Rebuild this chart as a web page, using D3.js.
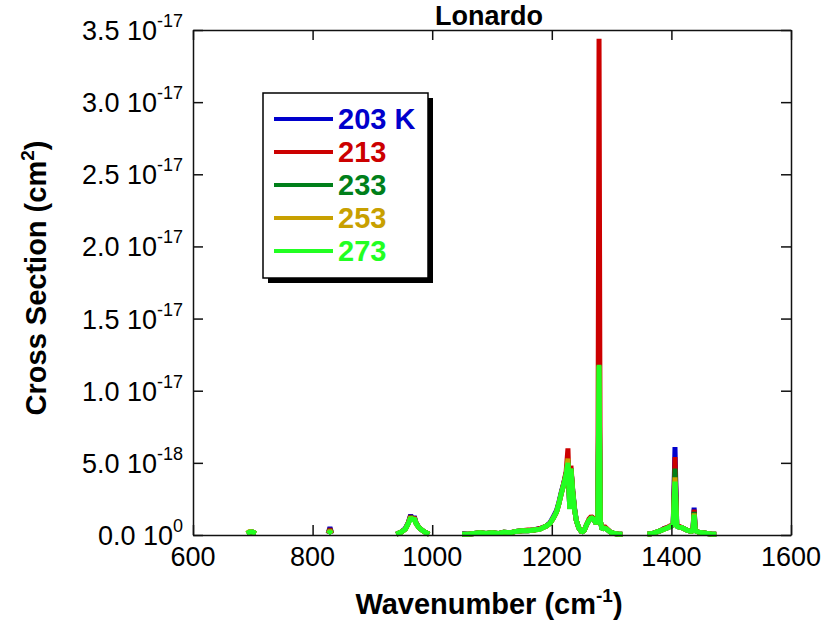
<!DOCTYPE html>
<html>
<head>
<meta charset="utf-8">
<script src="https://cdn.jsdelivr.net/npm/d3@7"></script>
<style>
    body { margin: 0; background: #ffffff; }
    text { font-family: "Liberation Sans", Arial, Helvetica, sans-serif; }
</style>
</head>
<body>
<svg id="chart" width="840" height="625"></svg>
<script>
// Wavenumber grid (cm-1) shared by every temperature; null values mark gaps
var wavenumber = [
    690, 695, 700, 705,
    760,
    826, 829, 832,
    900,
    940, 948, 955, 960, 964, 967, 970, 973, 978, 984, 990, 995,
    1020,
    1050, 1060, 1070, 1080, 1090, 1100, 1110, 1120, 1130, 1140, 1150, 1160,
    1170, 1180, 1190, 1197, 1203, 1208, 1212, 1216, 1220, 1224, 1227, 1230,
    1232, 1235, 1238, 1241, 1245, 1250, 1254, 1258, 1262, 1266, 1270, 1274,
    1277, 1279, 1281, 1284, 1288, 1292, 1298, 1305, 1312, 1318,
    1340,
    1360, 1368, 1375, 1382, 1388, 1394, 1399, 1403, 1406, 1409, 1413, 1418,
    1423, 1428, 1433, 1436, 1438, 1440, 1445, 1452, 1460, 1468, 1475
];

// Cross sections in units of 1e-18 cm2
var xs203 = [
    0.1, 0.15, 0.15, 0.1,
    null,
    0.1, 0.55, 0.1,
    null,
    0.05, 0.2, 0.45, 0.85, 1.4, 1.05, 1.3, 0.85, 0.5, 0.3, 0.15, 0.05,
    null,
    0.1, 0.05, 0.1, 0.15, 0.1, 0.15, 0.1, 0.2, 0.15, 0.25, 0.3, 0.3,
    0.35, 0.45, 0.6, 0.85, 1.3, 1.7, 2.3, 3.0, 3.6, 4.3, 4.6, 1.9,
    4.6, 3.1, 1.9, 1.0, 0.5, 0.2, 0.3, 0.7, 1.0, 1.25, 1.1, 0.8,
    1.0, 11.0, 1.0, 0.4, 0.5, 0.4, 0.2, 0.1, 0.05, 0.05,
    null,
    0.05, 0.1, 0.2, 0.3, 0.45, 0.5, 0.6, 0.7, 6.1, 0.6, 0.55, 0.5,
    0.4, 0.3, 0.25, 0.3, 1.9, 0.3, 0.2, 0.15, 0.1, 0.05, 0.05
];
var xs213 = [
    0.1, 0.2, 0.2, 0.1,
    null,
    0.1, 0.45, 0.1,
    null,
    0.05, 0.2, 0.4, 0.85, 1.35, 1.0, 1.25, 0.85, 0.5, 0.3, 0.15, 0.05,
    null,
    0.05, 0.05, 0.1, 0.15, 0.1, 0.15, 0.1, 0.2, 0.15, 0.25, 0.3, 0.35,
    0.35, 0.45, 0.6, 0.8, 1.2, 1.6, 2.2, 2.9, 3.6, 4.4, 6.0, 1.8,
    4.8, 3.1, 1.8, 1.0, 0.5, 0.2, 0.3, 0.7, 1.1, 1.3, 1.15, 0.8,
    1.0, 34.4, 1.0, 0.45, 0.6, 0.45, 0.2, 0.1, 0.05, 0.05,
    null,
    0.05, 0.1, 0.2, 0.3, 0.45, 0.55, 0.65, 0.7, 5.4, 0.65, 0.6, 0.5,
    0.4, 0.3, 0.25, 0.3, 1.75, 0.35, 0.2, 0.15, 0.1, 0.05, 0.05
];
var xs233 = [
    0.1, 0.2, 0.2, 0.1,
    null,
    0.1, 0.35, 0.1,
    null,
    0.05, 0.2, 0.4, 0.8, 1.3, 1.0, 1.2, 0.8, 0.5, 0.3, 0.15, 0.05,
    null,
    0.05, 0.05, 0.1, 0.15, 0.1, 0.15, 0.1, 0.2, 0.15, 0.25, 0.3, 0.3,
    0.35, 0.4, 0.6, 0.8, 1.2, 1.6, 2.2, 2.9, 3.5, 4.2, 5.2, 1.8,
    4.6, 3.0, 1.8, 1.0, 0.5, 0.2, 0.3, 0.7, 1.0, 1.2, 1.1, 0.8,
    1.0, 11.6, 1.0, 0.4, 0.5, 0.4, 0.2, 0.1, 0.05, 0.05,
    null,
    0.05, 0.1, 0.2, 0.3, 0.4, 0.5, 0.6, 0.7, 4.6, 0.6, 0.55, 0.5,
    0.4, 0.3, 0.25, 0.3, 1.6, 0.3, 0.2, 0.15, 0.1, 0.05, 0.05
];
var xs253 = [
    0.1, 0.25, 0.2, 0.1,
    null,
    0.1, 0.3, 0.1,
    null,
    0.05, 0.2, 0.4, 0.8, 1.25, 1.0, 1.2, 0.8, 0.5, 0.3, 0.15, 0.05,
    null,
    0.05, 0.05, 0.1, 0.15, 0.1, 0.15, 0.1, 0.2, 0.15, 0.25, 0.3, 0.3,
    0.35, 0.4, 0.6, 0.8, 1.2, 1.6, 2.2, 2.9, 3.5, 4.2, 5.3, 1.8,
    4.6, 3.0, 1.8, 1.0, 0.5, 0.2, 0.3, 0.7, 1.0, 1.2, 1.1, 0.8,
    1.0, 11.7, 1.0, 0.4, 0.5, 0.4, 0.2, 0.1, 0.05, 0.05,
    null,
    0.05, 0.1, 0.2, 0.3, 0.4, 0.5, 0.6, 0.7, 4.0, 0.6, 0.55, 0.5,
    0.4, 0.3, 0.25, 0.3, 1.5, 0.3, 0.2, 0.15, 0.1, 0.05, 0.05
];
var xs273 = [
    0.1, 0.2, 0.2, 0.1,
    null,
    0.1, 0.2, 0.1,
    null,
    0.05, 0.2, 0.4, 0.8, 1.2, 1.0, 1.15, 0.8, 0.5, 0.3, 0.15, 0.05,
    null,
    0.05, 0.05, 0.1, 0.15, 0.1, 0.15, 0.1, 0.2, 0.15, 0.25, 0.3, 0.3,
    0.35, 0.4, 0.6, 0.8, 1.2, 1.6, 2.2, 2.9, 3.5, 4.2, 5.0, 1.8,
    4.6, 3.0, 1.8, 1.0, 0.5, 0.2, 0.3, 0.7, 1.0, 1.2, 1.1, 0.8,
    1.0, 11.8, 1.0, 0.4, 0.5, 0.4, 0.2, 0.1, 0.05, 0.05,
    null,
    0.05, 0.1, 0.2, 0.3, 0.4, 0.5, 0.6, 0.7, 3.7, 0.6, 0.55, 0.5,
    0.4, 0.3, 0.25, 0.3, 1.4, 0.3, 0.2, 0.15, 0.1, 0.05, 0.05
];

var seriesLabels = ["203 K", "213", "233", "253", "273"];
var seriesColors = ["#0000cc", "#cc0000", "#007f1a", "#c8a000", "#22ff22"];
var seriesValues = [xs203, xs213, xs233, xs253, xs273];

var xMajorTicks = [600, 800, 1000, 1200, 1400, 1600];
var yMajorTicks = [0, 5, 10, 15, 20, 25, 30, 35];
// mantissa and exponent of each y tick label
var yTickMantissa = ["0.0", "5.0", "1.0", "1.5", "2.0", "2.5", "3.0", "3.5"];
var yTickExponent = ["0", "-18", "-17", "-17", "-17", "-17", "-17", "-17"];

var svg = d3.select("#chart");

var plot = { left: 193, right: 791, top: 30, bottom: 535 };

var x = d3.scaleLinear().domain([600, 1600]).range([plot.left, plot.right]);
var y = d3.scaleLinear().domain([0, 35]).range([plot.bottom, plot.top]);

var xMinorTicks = d3.range(600, 1601, 50);
var yMinorTicks = d3.range(0, 35.01, 1);

/**
 * Draws one side of the frame: a set of minor ticks, then the major ones.
 * Ticks point into the plot.
 */
function drawSide(axisFn, translate, scale, majors, minors) {
    var g = svg.append("g").attr("transform", translate);
    g.call(axisFn(scale).tickValues(minors).tickSizeInner(-5).tickSizeOuter(0).tickFormat(""));
    g.call(axisFn(scale).tickValues(majors).tickSizeInner(-10).tickSizeOuter(0).tickFormat(""));
    g.selectAll("path, line").attr("stroke", "#111").attr("stroke-width", 1.5);
    return g;
}

// spectra, coldest first so warmer ones paint on top
var line = d3.line()
    .defined(function(d) { return d.v !== null; })
    .x(function(d) { return x(d.w); })
    .y(function(d) { return y(d.v); });

seriesValues.forEach(function(vals, i) {
    var pts = wavenumber.map(function(w, j) { return { w: w, v: vals[j] }; });
    svg.append("path")
        .datum(pts)
        .attr("d", line)
        .attr("fill", "none")
        .attr("stroke", seriesColors[i])
        .attr("stroke-width", 5)
        .attr("stroke-linejoin", "bevel");
});

drawSide(d3.axisBottom, "translate(0," + plot.bottom + ")", x, xMajorTicks, xMinorTicks);
drawSide(d3.axisTop, "translate(0," + plot.top + ")", x, xMajorTicks, xMinorTicks);
drawSide(d3.axisLeft, "translate(" + plot.left + ",0)", y, yMajorTicks, yMinorTicks);
drawSide(d3.axisRight, "translate(" + plot.right + ",0)", y, yMajorTicks, yMinorTicks);

// x tick labels
svg.append("g").selectAll("text")
    .data(xMajorTicks)
    .join("text")
    .attr("x", function(d) { return x(d); })
    .attr("y", plot.bottom + 31)
    .attr("text-anchor", "middle")
    .attr("font-size", 27)
    .text(function(d) { return d; });

// y tick labels with superscript exponent
var yLabels = svg.append("g").selectAll("text")
    .data(yMajorTicks)
    .join("text")
    .attr("x", plot.left - 10)
    .attr("y", function(d) { return y(d) + 10; })
    .attr("text-anchor", "end")
    .attr("font-size", 27);
yLabels.append("tspan").text(function(d, i) { return yTickMantissa[i] + " 10"; });
yLabels.append("tspan")
    .attr("dy", -13)
    .attr("font-size", 18)
    .text(function(d, i) { return yTickExponent[i]; });

// titles
svg.append("text")
    .attr("x", 489)
    .attr("y", 25)
    .attr("text-anchor", "middle")
    .attr("font-size", 27)
    .attr("font-weight", "bold")
    .text("Lonardo");

var xTitle = svg.append("text")
    .attr("x", 489)
    .attr("y", 614)
    .attr("text-anchor", "middle")
    .attr("font-size", 29)
    .attr("font-weight", "bold");
xTitle.append("tspan").text("Wavenumber (cm");
xTitle.append("tspan").attr("dy", -12).attr("font-size", 19).text("-1");
xTitle.append("tspan").attr("dy", 12).text(")");

var yTitle = svg.append("text")
    .attr("transform", "translate(46,278) rotate(-90)")
    .attr("text-anchor", "middle")
    .attr("font-size", 29)
    .attr("font-weight", "bold");
yTitle.append("tspan").text("Cross Section (cm");
yTitle.append("tspan").attr("dy", -12).attr("font-size", 19).text("2");
yTitle.append("tspan").attr("dy", 12).text(")");

// legend box with drop shadow
var legend = { x: 263, y: 93, w: 165, h: 185 };
svg.append("rect")
    .attr("x", legend.x + 5).attr("y", legend.y + 5)
    .attr("width", legend.w).attr("height", legend.h)
    .attr("fill", "#000");
svg.append("rect")
    .attr("x", legend.x).attr("y", legend.y)
    .attr("width", legend.w).attr("height", legend.h)
    .attr("fill", "#fff")
    .attr("stroke", "#000")
    .attr("stroke-width", 1.5);

var legendRow = d3.scaleLinear().domain([0, 4]).range([legend.y + 26, legend.y + 158]);
var legendItems = svg.append("g").selectAll("g")
    .data(seriesLabels)
    .join("g")
    .attr("transform", function(d, i) { return "translate(0," + legendRow(i) + ")"; });
legendItems.append("line")
    .attr("x1", legend.x + 11).attr("x2", legend.x + 70)
    .attr("stroke", function(d, i) { return seriesColors[i]; })
    .attr("stroke-width", 4);
legendItems.append("text")
    .attr("x", legend.x + 75)
    .attr("y", 10)
    .attr("font-size", 29)
    .attr("font-weight", "bold")
    .attr("fill", function(d, i) { return seriesColors[i]; })
    .text(function(d) { return d; });
</script>
</body>
</html>
